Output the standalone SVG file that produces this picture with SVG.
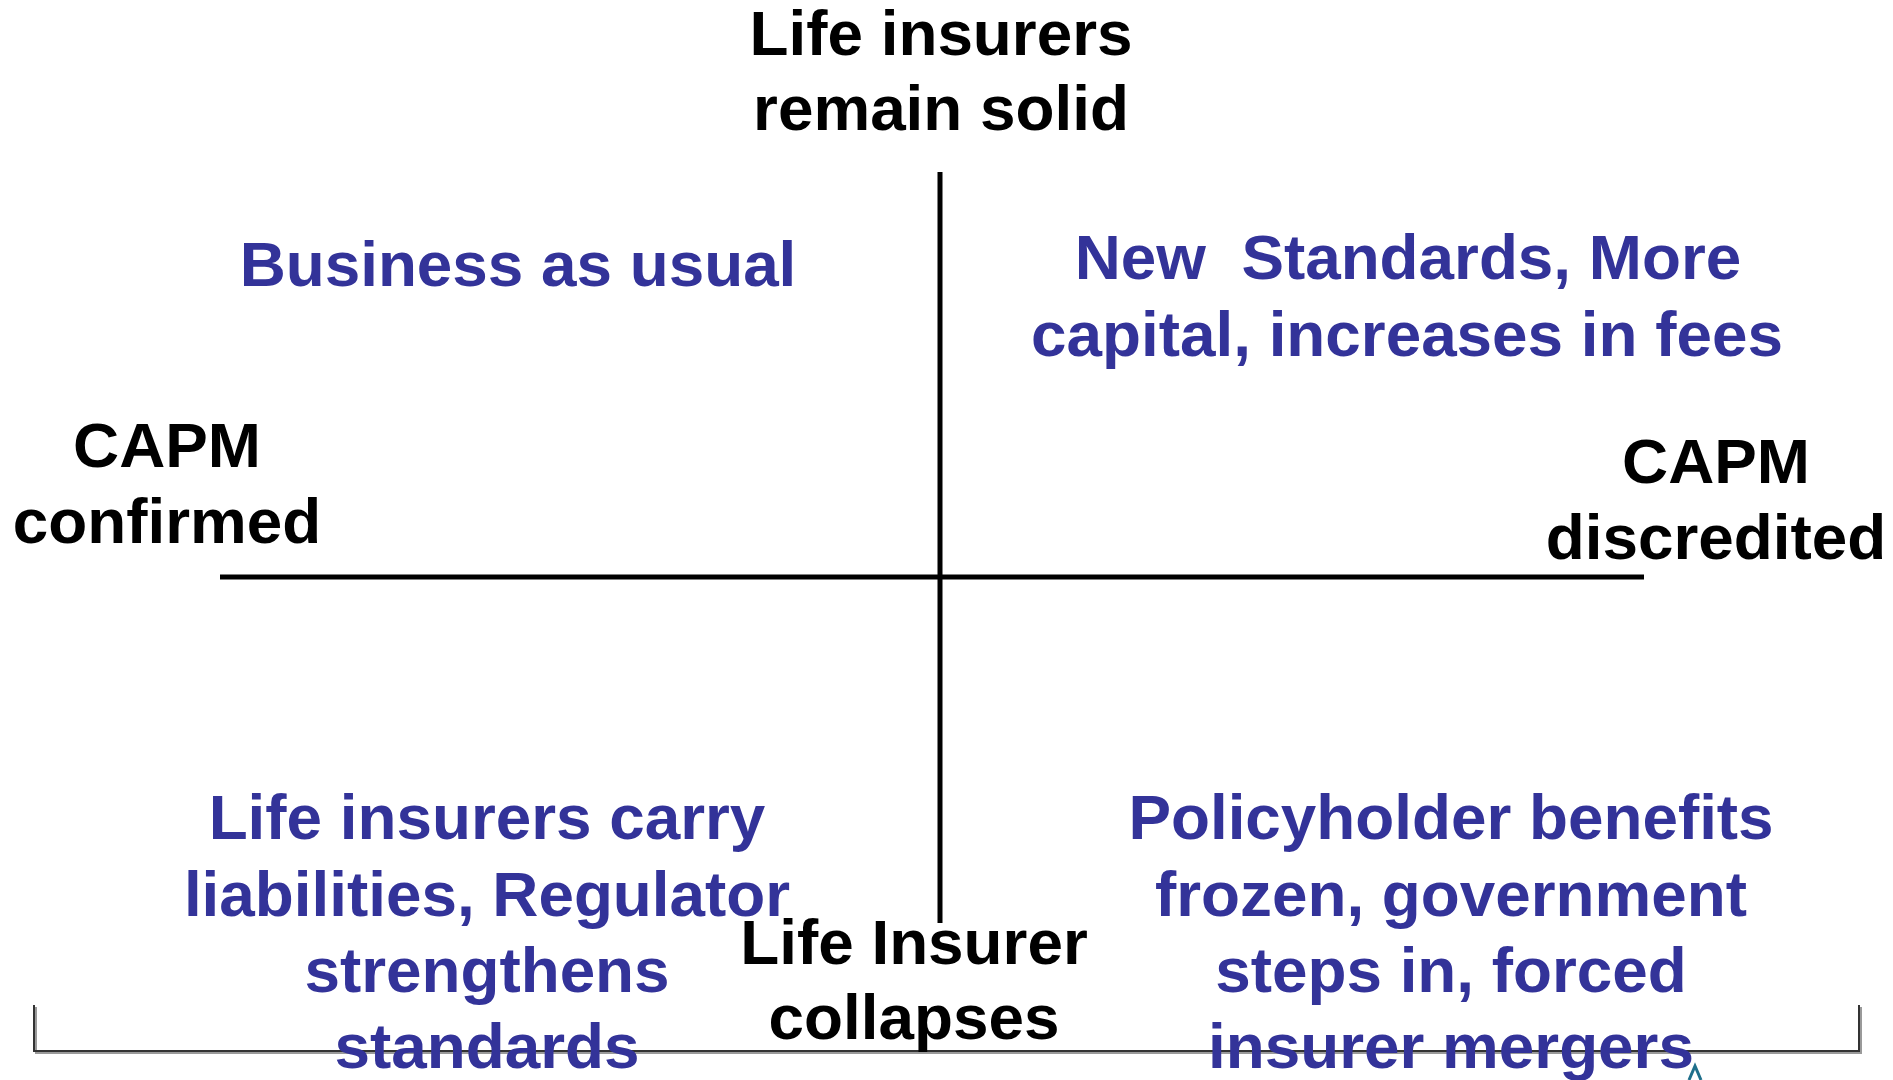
<svg xmlns="http://www.w3.org/2000/svg" width="1893" height="1080" viewBox="0 0 1893 1080">
  <style>
    text { font-family: "Liberation Sans", Arial, sans-serif; font-weight: bold; font-size: 63.8px; text-anchor: middle; }
    .axis-label { fill: #000000; }
    .scenario { fill: #333399; }
    .axis { stroke: #000000; stroke-width: 5; fill: none; }
    .frame { stroke: #333333; stroke-width: 2; fill: none; }
    .frame-shade { stroke: #9a9a9a; stroke-width: 2; fill: none; }
  </style>
  <rect width="1893" height="1080" fill="#ffffff"/>

  <!-- bottom frame with soft shade -->
  <g id="frame">
    <polyline class="frame-shade" points="36,1007 36,1053 1861,1053 1861,1007"/>
    <polyline class="frame" points="34,1005 34,1051 1859,1051 1859,1005"/>
    <polyline points="1689,1080 1695,1066 1701,1080" fill="none" stroke="#1f6f8b" stroke-width="3"/>
  </g>

  <!-- the two axes -->
  <g id="connectors">
    <line class="axis" x1="940" y1="172" x2="940" y2="923"/>
    <line class="axis" x1="220" y1="577" x2="1644" y2="577"/>
  </g>

  <!-- axis end labels -->
  <g id="top-label">
    <text class="axis-label" x="941" y="55">Life insurers</text>
    <text class="axis-label" x="941" y="130">remain solid</text>
  </g>
  <g id="bottom-label">
    <text class="axis-label" x="914" y="964">Life Insurer</text>
    <text class="axis-label" x="914" y="1039">collapses</text>
  </g>
  <g id="left-label">
    <text class="axis-label" x="167" y="467">CAPM</text>
    <text class="axis-label" x="167" y="543">confirmed</text>
  </g>
  <g id="right-label">
    <text class="axis-label" x="1716" y="483">CAPM</text>
    <text class="axis-label" x="1716" y="559">discredited</text>
  </g>

  <!-- quadrant scenarios -->
  <g id="quadrant-top-left">
    <text class="scenario" x="518" y="286">Business as usual</text>
  </g>
  <g id="quadrant-top-right">
    <text class="scenario" x="1408" y="279" xml:space="preserve">New  Standards, More</text>
    <text class="scenario" x="1407" y="356">capital, increases in fees</text>
  </g>
  <g id="quadrant-bottom-left">
    <text class="scenario" x="487" y="839">Life insurers carry</text>
    <text class="scenario" x="487" y="916">liabilities, Regulator</text>
    <text class="scenario" x="487" y="992">strengthens</text>
    <text class="scenario" x="487" y="1068">standards</text>
  </g>
  <g id="quadrant-bottom-right">
    <text class="scenario" x="1451" y="839">Policyholder benefits</text>
    <text class="scenario" x="1451" y="916">frozen, government</text>
    <text class="scenario" x="1451" y="992">steps in, forced</text>
    <text class="scenario" x="1451" y="1068">insurer mergers</text>
  </g>
</svg>
